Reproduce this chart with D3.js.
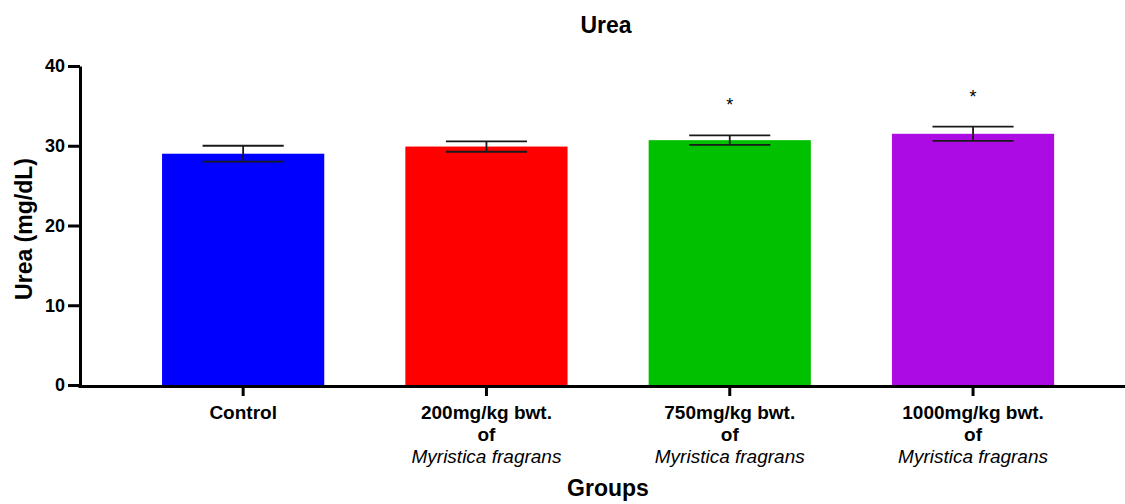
<!DOCTYPE html>
<html>
<head>
<meta charset="utf-8">
<script src="https://cdn.jsdelivr.net/npm/d3@7/dist/d3.min.js"></script>
<style>
  html, body { margin: 0; padding: 0; background: #fff; }
  svg { display: block; font-family: "Liberation Sans", Arial, sans-serif; }
</style>
</head>
<body>
<svg id="chart" width="1125" height="504"></svg>
<script>
// Serum urea by treatment group (mean ± SEM)
const groups = ["Control", "200mg/kg", "750mg/kg", "1000mg/kg"];
const doseLabels = ["Control", "200mg/kg bwt.", "750mg/kg bwt.", "1000mg/kg bwt."];
const ureaMean = [29.0, 29.9, 30.7, 31.5];
const ureaSem = [1.0, 0.65, 0.6, 0.9];
const significant = [false, false, true, true];
const barColors = ["#0000FF", "#FF0000", "#00C000", "#AC0BE3"];
const yTicks = [0, 10, 20, 30, 40];

const svg = d3.select("#chart");

const x = d3.scaleBand()
  .domain(groups)
  .range([121.5, 1094.7])
  .paddingInner(1 / 3)
  .paddingOuter(1 / 6);

const y = d3.scaleLinear().domain([0, 40]).range([385, 66]);

// Bars
svg.append("g").selectAll("rect")
  .data(groups)
  .join("rect")
  .attr("x", d => x(d))
  .attr("width", x.bandwidth())
  .attr("y", (d, i) => y(ureaMean[i]))
  .attr("height", (d, i) => y(0) - y(ureaMean[i]))
  .attr("fill", (d, i) => barColors[i]);

// Error bars
const capHalf = x.bandwidth() / 4;
const eb = svg.append("g").attr("stroke", "#1a1a1a").attr("stroke-width", 1.8).attr("fill", "none");
groups.forEach((g, i) => {
  const cx = x(g) + x.bandwidth() / 2;
  const hi = y(ureaMean[i] + ureaSem[i]);
  const lo = y(ureaMean[i] - ureaSem[i]);
  eb.append("line").attr("x1", cx).attr("x2", cx).attr("y1", hi).attr("y2", lo);
  eb.append("line").attr("x1", cx - capHalf).attr("x2", cx + capHalf).attr("y1", hi).attr("y2", hi);
  eb.append("line").attr("x1", cx - capHalf).attr("x2", cx + capHalf).attr("y1", lo).attr("y2", lo);
  if (significant[i]) {
    svg.append("text")
      .attr("x", cx)
      .attr("y", hi - 24)
      .attr("text-anchor", "middle")
      .attr("font-size", 18)
      .attr("fill", "#000")
      .text("*");
  }
});

// Y axis
const yAxis = svg.append("g")
  .attr("transform", "translate(80,0)")
  .call(d3.axisLeft(y).tickValues(yTicks).tickSize(12).tickPadding(3).tickSizeOuter(0));
yAxis.select(".domain").attr("stroke", "#000").attr("stroke-width", 3);
yAxis.selectAll(".tick line").attr("stroke", "#000").attr("stroke-width", 3);
yAxis.selectAll(".tick text")
  .attr("font-family", "Liberation Sans, Arial, sans-serif")
  .attr("font-size", 18)
  .attr("font-weight", "bold")
  .attr("fill", "#000");

// X axis line spanning to the right edge
svg.append("line")
  .attr("x1", 78.5).attr("x2", 1125)
  .attr("y1", 386.5).attr("y2", 386.5)
  .attr("stroke", "#000").attr("stroke-width", 3);

// X ticks and multi-line category labels
const xt = svg.append("g");
groups.forEach((g, i) => {
  const cx = x(g) + x.bandwidth() / 2;
  xt.append("line")
    .attr("x1", cx).attr("x2", cx)
    .attr("y1", 386).attr("y2", 396)
    .attr("stroke", "#000").attr("stroke-width", 3);
  const t = xt.append("text")
    .attr("x", cx)
    .attr("text-anchor", "middle")
    .attr("font-size", 19)
    .attr("fill", "#000");
  t.append("tspan").attr("x", cx).attr("y", 419).attr("font-weight", "bold").text(doseLabels[i]);
  if (i > 0) {
    t.append("tspan").attr("x", cx).attr("y", 441).attr("font-weight", "bold").text("of");
    t.append("tspan").attr("x", cx).attr("y", 463).attr("font-style", "italic").text("Myristica fragrans");
  }
});

// Titles
svg.append("text")
  .attr("x", 606).attr("y", 33)
  .attr("text-anchor", "middle")
  .attr("font-size", 23).attr("font-weight", "bold")
  .text("Urea");

svg.append("text")
  .attr("x", 608).attr("y", 496)
  .attr("text-anchor", "middle")
  .attr("font-size", 23).attr("font-weight", "bold")
  .text("Groups");

svg.append("text")
  .attr("transform", "translate(32,229) rotate(-90)")
  .attr("text-anchor", "middle")
  .attr("font-size", 23).attr("font-weight", "bold")
  .text("Urea (mg/dL)");
</script>
</body>
</html>
